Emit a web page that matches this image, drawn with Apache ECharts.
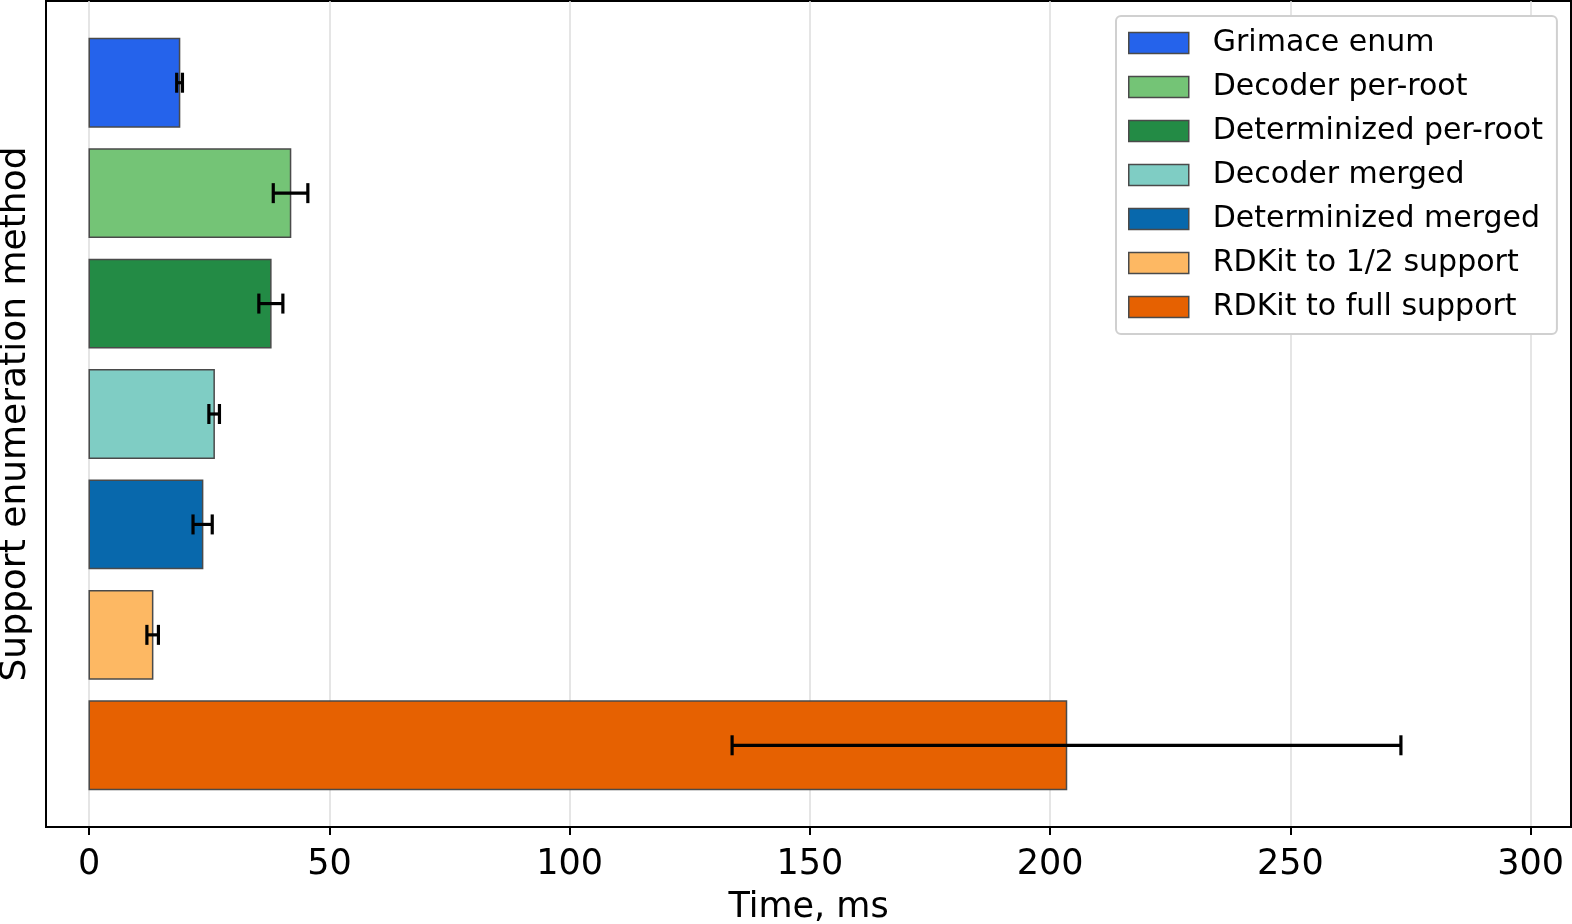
<!DOCTYPE html>
<html>
<head>
<meta charset="utf-8">
<script src="https://cdn.jsdelivr.net/npm/echarts@6.0.0/dist/echarts.min.js"></script>
<style>
  html, body { margin: 0; padding: 0; background: #fff; }
  #chart { width: 1572px; height: 924px; }
</style>
</head>
<body>
<div id="chart"></div>
<script>
// bar categories, top to bottom
var methods = ['Grimace enum', 'Decoder per-root', 'Determinized per-root', 'Decoder merged',
               'Determinized merged', 'RDKit to 1/2 support', 'RDKit to full support'];
// mean time, ms
var times = [18.8, 41.9, 37.8, 26.0, 23.6, 13.2, 203.4];
// error bar half-width, ms
var errors = [0.6, 3.6, 2.5, 1.1, 2.0, 1.2, 69.6];
var colors = ['#2563eb', '#74c476', '#238b45', '#7fcdc4', '#0868ac', '#fdb863', '#e66101'];
var xTicks = [0, 50, 100, 150, 200, 250, 300];

var font = 'DejaVu Sans';

function renderBar(params, api) {
    var idx = api.value(1);
    var p0 = api.coord([0, idx - 0.4]);
    var p1 = api.coord([api.value(0), idx + 0.4]);
    return {
        type: 'rect',
        shape: { x: p0[0], y: Math.min(p0[1], p1[1]), width: p1[0] - p0[0], height: Math.abs(p1[1] - p0[1]) },
        style: { fill: api.visual('color'), stroke: '#4a4a4a', lineWidth: 1.5 }
    };
}

function renderErr(params, api) {
    var a = api.coord([api.value(0), api.value(2)]);
    var b = api.coord([api.value(1), api.value(2)]);
    var cap = 10;
    var st = { stroke: '#000', lineWidth: 3.2 };
    return {
        type: 'group',
        children: [
            { type: 'line', shape: { x1: a[0], y1: a[1], x2: b[0], y2: b[1] }, style: st },
            { type: 'line', shape: { x1: a[0], y1: a[1] - cap, x2: a[0], y2: a[1] + cap }, style: st },
            { type: 'line', shape: { x1: b[0], y1: b[1] - cap, x2: b[0], y2: b[1] + cap }, style: st }
        ]
    };
}

var series = methods.map(function (name, i) {
    return {
        name: name,
        type: 'custom',
        renderItem: renderBar,
        itemStyle: { color: colors[i] },
        encode: { x: 0, y: 1 },
        data: [[times[i], i]],
        z: 2
    };
});
series.push({
    name: 'err',
    type: 'custom',
    renderItem: renderErr,
    silent: true,
    encode: { x: [0, 1], y: 2 },
    data: methods.map(function (m, i) { return [times[i] - errors[i], times[i] + errors[i], i]; }),
    z: 3
});

var option = {
    animation: false,
    backgroundColor: '#fff',
    textStyle: { fontFamily: font },
    grid: {
        left: 46, right: 1, top: 1, bottom: 97,
        outerBoundsMode: 'none',
        containLabel: false,
        show: true, borderColor: '#000', borderWidth: 2, backgroundColor: 'transparent'
    },
    legend: {
        orient: 'vertical',
        left: 1116, top: 16,
        padding: [12, 14, 12, 12],
        itemWidth: 60, itemHeight: 21, itemGap: 14,
        backgroundColor: '#fff',
        borderColor: '#d0d0d0', borderWidth: 2, borderRadius: 5,
        itemStyle: { borderColor: '#4a4a4a', borderWidth: 1.5 },
        textStyle: { fontFamily: font, fontSize: 30, color: '#000', padding: [0, 0, 0, 19] },
        data: methods.map(function (m) { return { name: m, icon: 'rect' }; })
    },
    xAxis: {
        type: 'value',
        min: -9, max: 308.4,
        name: 'Time, ms',
        nameLocation: 'middle',
        nameGap: 63,
        nameTextStyle: { fontFamily: font, fontSize: 35, color: '#000' },
        axisLine: { show: true, onZero: false, lineStyle: { color: '#000', width: 2 } },
        axisTick: { show: true, length: 8, customValues: xTicks, lineStyle: { color: '#000', width: 2 } },
        axisLabel: { customValues: xTicks, fontFamily: font, fontSize: 35, color: '#000', margin: 20 },
        splitLine: { show: true, lineStyle: { color: '#dcdcdc', width: 1.5 } }
    },
    yAxis: {
        type: 'value',
        inverse: true,
        min: -0.74, max: 6.74,
        name: 'Support enumeration method',
        nameLocation: 'middle',
        nameRotate: 90,
        nameGap: 12,
        nameTextStyle: { fontFamily: font, fontSize: 36, color: '#000' },
        axisLine: { show: false, onZero: false },
        axisTick: { show: false },
        axisLabel: { show: false },
        splitLine: { show: false }
    },
    series: series
};

echarts.init(document.getElementById('chart')).setOption(option);
</script>
</body>
</html>
